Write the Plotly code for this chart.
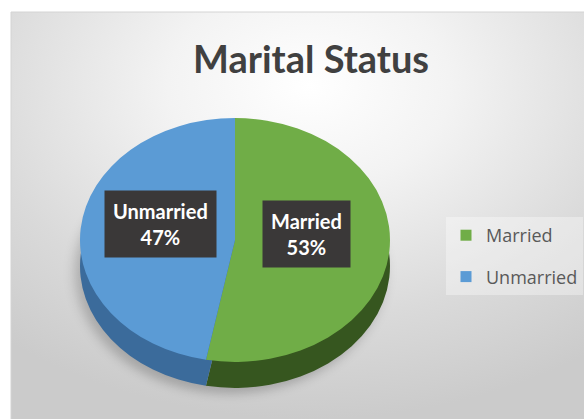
import base64
import plotly.graph_objects as go

# ---- data ----
categories = ["Married", "Unmarried"]
values = [53, 47]
top_colors = ["#70ad47", "#5b9bd5"]
side_colors = ["#36561f", "#3b6b9b"]
title_text = "Marital Status"

W, H = 584, 419
total = sum(values)
pcts = [round(v * 100 / total) for v in values]

# gradient background (chart area)
svg = f'''<svg xmlns="http://www.w3.org/2000/svg" width="573" height="407" viewBox="0 0 573 407">
<defs><radialGradient id="g" cx="0.52" cy="0.18" r="0.82">
<stop offset="0" stop-color="#ffffff"/><stop offset="0.3" stop-color="#f3f3f3"/>
<stop offset="0.7" stop-color="#dadada"/><stop offset="1" stop-color="#cbcbcb"/>
</radialGradient></defs><rect width="573" height="407" fill="url(#g)"/></svg>'''
bg_uri = "data:image/svg+xml;base64," + base64.b64encode(svg.encode()).decode()

fig = go.Figure()

pie_domain = dict(x=[(235 - 155) / W, (235 + 155) / W],
                  y=[1 - (240 + 155) / H, 1 - (240 - 155) / H])

# shadow, side (depth) and top faces of the 3D pie
for cols in (["rgba(0,0,0,0.2)"] * 2, side_colors, top_colors):
    fig.add_trace(go.Pie(
        labels=categories, values=values, sort=False, direction="clockwise",
        rotation=0, domain=pie_domain, textinfo="none", hoverinfo="label+percent",
        marker=dict(colors=cols, line=dict(width=0)), showlegend=False))

# legend entries
for i, (cat, col) in enumerate(zip(categories, top_colors)):
    fig.add_trace(go.Scatter(x=[None], y=[None], mode="markers", name=cat,
                             legendgroup=cat,
                             marker=dict(symbol="square", size=11, color=col)))

# data labels
label_pos = [(306, 234), (160, 224)]
for cat, p, (px, py) in zip(categories, pcts, label_pos):
    fig.add_annotation(x=px / W, y=1 - py / H, xref="paper", yref="paper",
                       xanchor="center", yanchor="middle",
                       text=f"<b>{cat}<br>{p}%</b>", showarrow=False,
                       font=dict(family="Lato", size=20, color="white"),
                       bgcolor="#3a3838", borderpad=8, align="center")

# title
fig.add_annotation(x=311 / W, y=1 - 58 / H, xref="paper", yref="paper",
                   text=f"<b>{title_text}</b>", showarrow=False,
                   font=dict(family="Lato", size=38, color="#404040"),
                   xanchor="center", yanchor="middle")

fig.add_layout_image(source=bg_uri, xref="paper", yref="paper",
                     x=11 / W, y=1 - 12 / H, sizex=(W - 11) / W, sizey=(H - 12) / H,
                     xanchor="left", yanchor="top", sizing="stretch", layer="below")
fig.add_shape(type="rect", xref="paper", yref="paper",
              x0=11 / W, x1=1.01, y0=-0.01, y1=1 - 12 / H,
              line=dict(color="#d4d4d4", width=1), layer="below")

fig.update_layout(
    width=W, height=H, autosize=False,
    margin=dict(l=0, r=0, t=0, b=0),
    paper_bgcolor="white", plot_bgcolor="rgba(0,0,0,0)",
    xaxis=dict(visible=False), yaxis=dict(visible=False),
    legend=dict(x=446 / W, y=1 - 217 / H, xanchor="left", yanchor="top",
                bgcolor="rgba(255,255,255,0.35)", tracegroupgap=15,
                font=dict(family="Open Sans", size=18, color="#595959")),
)

post = """
var gd = document.getElementById('{plot_id}');
function squash(){
  var tr = gd.querySelectorAll('.pielayer .trace');
  var base = 'translate(0,240) scale(1,0.787) translate(0,-240)';
  if (tr.length >= 3){
    tr[0].setAttribute('transform', 'translate(-5,32) ' + base);
    tr[0].style.filter = 'blur(6px)';
    tr[1].setAttribute('transform', 'translate(0,26) ' + base);
    tr[2].setAttribute('transform', base);
  }
}
squash();
gd.on('plotly_afterplot', squash);
"""
fig.write_html("out.html", post_script=post, config={"responsive": False, "displayModeBar": False})
